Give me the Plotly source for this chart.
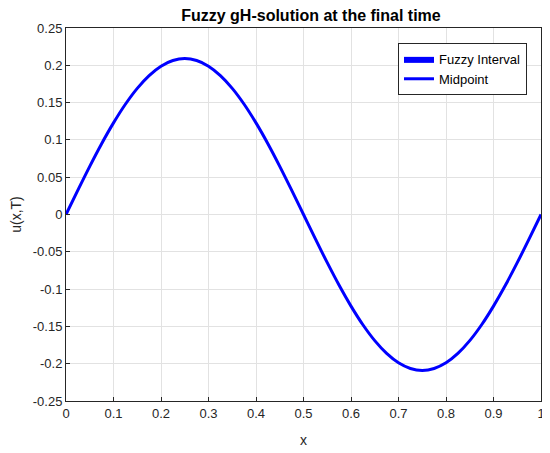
import plotly.graph_objects as go

x_vals = [0.0, 0.025, 0.05, 0.075, 0.1, 0.125, 0.15, 0.175, 0.2, 0.225, 0.25,
          0.275, 0.3, 0.325, 0.35, 0.375, 0.4, 0.425, 0.45, 0.475, 0.5,
          0.525, 0.55, 0.575, 0.6, 0.625, 0.65, 0.675, 0.7, 0.725, 0.75,
          0.775, 0.8, 0.825, 0.85, 0.875, 0.9, 0.925, 0.95, 0.975, 1.0]
midpoint = [0.0, 0.0327, 0.0646, 0.0949, 0.1228, 0.1478, 0.1691, 0.1862, 0.1988, 0.2064, 0.209,
            0.2064, 0.1988, 0.1862, 0.1691, 0.1478, 0.1228, 0.0949, 0.0646, 0.0327, 0.0,
            -0.0327, -0.0646, -0.0949, -0.1228, -0.1478, -0.1691, -0.1862, -0.1988, -0.2064, -0.209,
            -0.2064, -0.1988, -0.1862, -0.1691, -0.1478, -0.1228, -0.0949, -0.0646, -0.0327, 0.0]
lower = midpoint
upper = midpoint

x_ticks = [0, 0.1, 0.2, 0.3, 0.4, 0.5, 0.6, 0.7, 0.8, 0.9, 1]
x_tick_text = ["0", "0.1", "0.2", "0.3", "0.4", "0.5", "0.6", "0.7", "0.8", "0.9", "1"]
y_ticks = [-0.25, -0.2, -0.15, -0.1, -0.05, 0, 0.05, 0.1, 0.15, 0.2, 0.25]
y_tick_text = ["-0.25", "-0.2", "-0.15", "-0.1", "-0.05", "0", "0.05", "0.1", "0.15", "0.2", "0.25"]

BLUE = "rgb(0,0,255)"
AX = "rgb(38,38,38)"

fig = go.Figure()
fig.add_trace(go.Scatter(x=x_vals, y=lower, mode="lines", line=dict(width=0, color=BLUE),
                         showlegend=False, hoverinfo="skip"))
fig.add_trace(go.Scatter(x=x_vals, y=upper, mode="lines", line=dict(width=0, color=BLUE),
                         fill="tonexty", fillcolor=BLUE, name="Fuzzy Interval"))
fig.add_trace(go.Scatter(x=x_vals, y=midpoint, mode="lines", line=dict(width=3, color=BLUE, shape="spline"),
                         name="Midpoint", cliponaxis=False))

axis_common = dict(showgrid=True, gridcolor="rgb(226,226,226)", gridwidth=1,
                   showline=True, linecolor=AX, linewidth=1, mirror=True,
                   ticks="inside", ticklen=4, tickcolor=AX, zeroline=False, automargin=False,
                   tickfont=dict(family="Arial, Liberation Sans", size=13, color=AX))

# the page body adds an 8px margin, so the figure is 8px smaller on each leading side
fig.update_layout(
    width=542, height=445,
    margin=dict(l=58, r=9, t=20, b=52),
    paper_bgcolor="white", plot_bgcolor="white",
    title=dict(text="<b>Fuzzy gH-solution at the final time</b>", x=0.559, xanchor="center",
               y=0.9835, yanchor="middle",
               font=dict(family="Arial, Liberation Sans", size=16, color="black")),
    xaxis=dict(range=[0, 1], tickvals=x_ticks, ticktext=x_tick_text,
               title=dict(text="x", font=dict(family="Arial, Liberation Sans", size=14, color=AX)),
               **axis_common),
    yaxis=dict(range=[-0.25, 0.25], tickvals=y_ticks, ticktext=y_tick_text,
               title=dict(text="u(x,T)", font=dict(family="Arial, Liberation Sans", size=14, color=AX)),
               **axis_common),
    legend=dict(x=0.9705, y=0.96, xanchor="right", yanchor="top", traceorder="normal",
                bgcolor="white", bordercolor=AX, borderwidth=1,
                font=dict(family="Arial, Liberation Sans", size=13, color="black"),
                tracegroupgap=0, itemwidth=30),
    showlegend=True,
)

fig.write_html("out.html")
